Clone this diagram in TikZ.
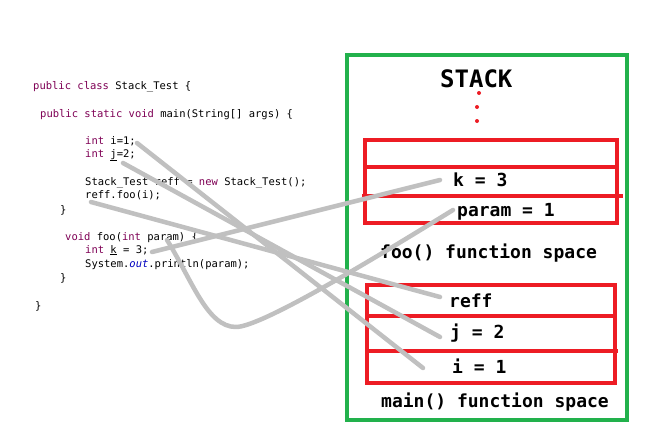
\documentclass[tikz,border=0pt]{standalone}
\usepackage{fontspec}
\setmonofont{DejaVu Sans Mono}
\definecolor{kwpurple}{HTML}{7F0055}
\definecolor{outblue}{HTML}{0000C0}
\definecolor{stackred}{HTML}{ED1C24}
\definecolor{stackgreen}{HTML}{22B14C}
\definecolor{wiregray}{RGB}{192,192,192}
\newcommand{\kw}[1]{\textcolor{kwpurple}{#1}}
\begin{document}
\begin{tikzpicture}[x=1pt,y=-1pt,
  code/.style={anchor=base west, inner sep=0pt, font=\fontsize{10.5}{12}\selectfont\ttfamily},
  lbl/.style={anchor=base west, inner sep=0pt, font=\fontsize{18}{20}\selectfont\ttfamily\bfseries},
  wire/.style={draw=wiregray, line width=4.5pt, line cap=round, line join=round},
  redframe/.style={draw=stackred, line width=4.5pt},
  greenframe/.style={draw=stackgreen, line width=4pt}]
\path[use as bounding box, fill=white] (0,0) rectangle (653,434);

% stack frame
\draw[greenframe] (347,55) rectangle (627,420);
% foo frame
\draw[redframe] (365,140) rectangle (617,223);
\draw[redframe] (365,167) -- (619,167);
\draw[redframe] (362,196) -- (623,196);
% main frame
\draw[redframe] (367,285) rectangle (615,383);
\draw[redframe] (367,316) -- (615,316);
\draw[redframe] (367,351) -- (618,351);

% stack texts
\node[anchor=base west, inner sep=0pt, font=\fontsize{24}{26}\selectfont\ttfamily\bfseries] (stack) at (440,87) {STACK};
\fill[stackred] (479,93) circle (2pt);
\fill[stackred] (477,107) circle (2pt);
\fill[stackred] (477,121) circle (2pt);
\node[lbl] (k3) at (453,186) {k = 3};
\node[lbl] (p1) at (457,216) {param = 1};
\node[lbl] (foosp) at (380,258) {foo() function space};
\node[lbl] (reff) at (449,307) {reff};
\node[lbl] (j2) at (450,338) {j = 2};
\node[lbl] (i1) at (452,373) {i = 1};
\node[lbl] (mainsp) at (381,407) {main() function space};

% code
\node[code] (c1) at (33,89) {\kw{public} \kw{class} Stack\_Test \{};
\node[code] (c2) at (40,117) {\kw{public} \kw{static} \kw{void} main(String[] args) \{};
\node[code] (c3) at (85,144) {\kw{int} i=1;};
\node[code] (c4) at (85,157) {\kw{int} \underline{j}=2;};
\node[code] (c5) at (85,185) {Stack\_Test reff = \kw{new} Stack\_Test();};
\node[code] (c6) at (85,198) {reff.foo(i);};
\node[code] (c7) at (60,213) {\}};
\node[code] (c8) at (65,240) {\kw{void} foo(\kw{int} param) \{};
\node[code] (c9) at (85,253) {\kw{int} \underline{k} = 3;};
\node[code] (c10) at (85,267) {System.\textcolor{outblue}{\itshape out}.println(param);};
\node[code] (c11) at (60,281) {\}};
\node[code] (c12) at (35,309) {\}};

% wire end points
\coordinate (wi) at (137,143);
\coordinate (wj) at (123,163);
\coordinate (wr) at (91,202);
\coordinate (wk) at (152,252);
\coordinate (wp) at (167,240);
\coordinate (ti) at (423,368);
\coordinate (tj) at (440,337);
\coordinate (tr) at (440,297);
\coordinate (tk) at (440,180);
\coordinate (tp) at (453,210);
\coordinate (pb) at (236,327);

\draw[wire] (wi) -- (ti);
\draw[wire] (wj) -- (tj);
\draw[wire] (wr) -- (tr);
\draw[wire] (wk) -- (tk);
\draw[wire] (wp) .. controls (192,280) and (207,327) .. (pb)
  .. controls (262,327) and (380,255) .. (tp);
\end{tikzpicture}
\end{document}
